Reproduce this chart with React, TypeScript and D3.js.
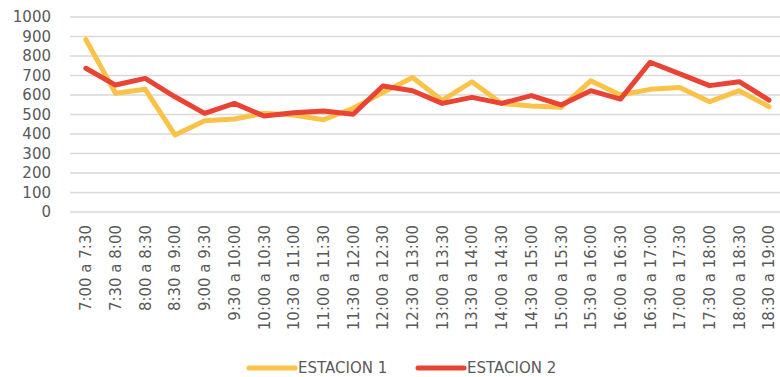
import React from "react";
import * as d3 from "d3";

const categories = [
  "7:00 a 7:30", "7:30 a 8:00", "8:00 a 8:30", "8:30 a 9:00", "9:00 a 9:30",
  "9:30 a 10:00", "10:00 a 10:30", "10:30 a 11:00", "11:00 a 11:30", "11:30 a 12:00",
  "12:00 a 12:30", "12:30 a 13:00", "13:00 a 13:30", "13:30 a 14:00", "14:00 a 14:30",
  "14:30 a 15:00", "15:00 a 15:30", "15:30 a 16:00", "16:00 a 16:30", "16:30 a 17:00",
  "17:00 a 17:30", "17:30 a 18:00", "18:00 a 18:30", "18:30 a 19:00",
];

const estacion1 = [
  885, 609, 629, 395, 468, 477, 506, 497, 473, 532, 612, 690,
  572, 668, 556, 544, 537, 673, 600, 629, 639, 566, 622, 540,
];

const estacion2 = [
  737, 651, 685, 591, 506, 557, 492, 509, 518, 501, 646, 622,
  557, 588, 557, 597, 549, 622, 579, 768, 708, 648, 668, 574,
];

const yTicks = [0, 100, 200, 300, 400, 500, 600, 700, 800, 900, 1000];

const seriesNames = ["ESTACION 1", "ESTACION 2"];
const seriesColors = ["#F9C34A", "#E94335"];

export default function App() {
  const W = 780;
  const H = 377;
  const font = "'DejaVu Sans', sans-serif";
  const textColor = "#595959";

  const x = d3.scaleBand<string>().domain(categories).range([71, 71 + 24 * 29.7]);
  const y = d3.scaleLinear().domain([0, 1000]).range([212, 17]);
  const cx = (c: string) => (x(c) as number) + x.bandwidth() / 2;

  const line = d3
    .line<number>()
    .x((_, i) => cx(categories[i]))
    .y((d) => y(d));

  const series = [estacion1, estacion2];

  return (
    <svg width={W} height={H} style={{ position: "absolute", left: 0, top: 0, background: "#fff" }}>
      {yTicks.map((t) => (
        <g key={t}>
          <line x1={70} x2={780} y1={y(t)} y2={y(t)} stroke="#D9D9D9" strokeWidth={1.3} />
          <text
            x={51}
            y={y(t)}
            dy="0.36em"
            textAnchor="end"
            fontFamily={font}
            fontSize={15}
            fill={textColor}
          >
            {t}
          </text>
        </g>
      ))}
      {categories.map((c) => (
        <text
          key={c}
          transform={`translate(${cx(c) + 5.5},225) rotate(-90)`}
          textAnchor="end"
          fontFamily={font}
          fontSize={15}
          fill={textColor}
        >
          {c}
        </text>
      ))}
      {series.map((s, i) => (
        <path
          key={i}
          d={line(s) as string}
          fill="none"
          stroke={seriesColors[i]}
          strokeWidth={5}
          strokeLinejoin="round"
          strokeLinecap="round"
        />
      ))}
      {seriesNames.map((n, i) => {
        const lx = i === 0 ? 249 : 418;
        return (
          <g key={n}>
            <line
              x1={lx}
              x2={lx + 46}
              y1={368}
              y2={368}
              stroke={seriesColors[i]}
              strokeWidth={5}
              strokeLinecap="round"
            />
            <text
              x={lx + 49}
              y={368}
              dy="0.36em"
              fontFamily={font}
              fontSize={15}
              fill={textColor}
            >
              {n}
            </text>
          </g>
        );
      })}
    </svg>
  );
}
